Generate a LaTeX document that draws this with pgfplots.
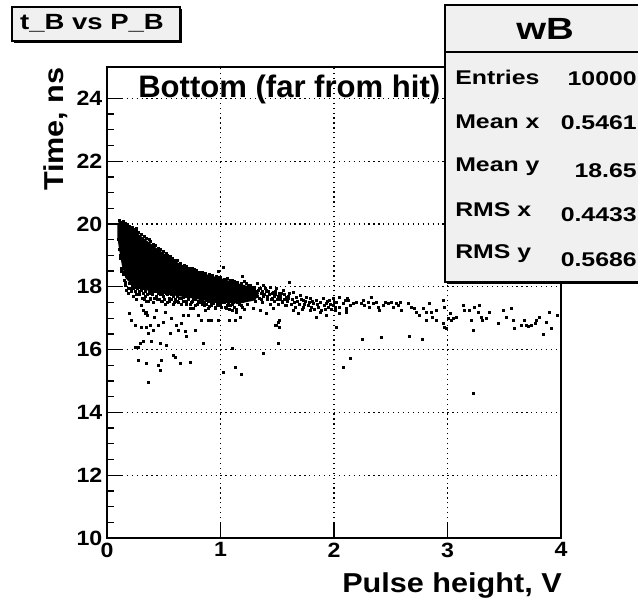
\documentclass[border=0pt]{standalone}
\usepackage{fontspec}
\setmainfont{Liberation Sans}
\newfontfamily\fA[FakeStretch=1.12]{Liberation Sans}
\newfontfamily\fB[FakeStretch=1.25]{Liberation Sans}
\usepackage{pgfplots}
\pgfplotsset{compat=1.18}
\definecolor{boxgray}{RGB}{240,240,240}
\begin{document}
\begin{tikzpicture}
\useasboundingbox (0,0) rectangle (478.5pt,450.75pt);
\begin{axis}[
  at={(80.25pt,47.25pt)}, anchor=south west, scale only axis,
  width=340.5pt, height=353.25pt,
  xmin=0, xmax=4, ymin=10, ymax=25,
  xtick={0,1,2,3,4}, ytick={10,12,14,16,18,20,22,24},
  minor y tick num=3,
  tick pos=left, tick align=inside,
  major tick length=11pt, minor tick length=5pt,
  every tick/.style={black, line width=1pt},
  axis line style={line width=1.2pt},
  grid=major,
  major grid style={black, line width=0.9pt, dash pattern=on 0.9pt off 2.8pt},
  ticklabel style={font=\fA\bfseries\fontsize{15.5}{15.5}\selectfont},
  /pgf/number format/assume math mode=true,
  clip=true,
]
% dense core of the distribution
\addplot[fill=black, draw=black, line width=1.6pt, line join=round] coordinates {
(0.10,19.95)(0.115,20.08)(0.15,20.0)(0.20,19.85)(0.29,19.6)(0.44,19.18)(0.59,18.8)(0.73,18.53)(0.88,18.36)(1.02,18.22)(1.17,18.06)(1.28,17.95)(1.33,17.8)(1.30,17.6)(1.17,17.5)(1.02,17.52)(0.88,17.58)(0.73,17.68)(0.55,17.78)(0.42,17.87)(0.29,17.97)(0.22,18.1)(0.17,18.3)(0.14,18.7)(0.12,19.1)(0.10,19.6)} --cycle;
% individual events
\addplot[only marks, mark=square*, mark size=0.75pt, black] coordinates {
(0.11,20.12)(0.14,20.1)(0.18,19.98)(0.22,19.9)(0.26,19.85)(0.26,19.76)(0.33,19.62)(0.37,19.5)(0.41,19.37)(0.47,19.2)(0.52,19.07)(0.56,18.96)(0.62,18.83)(0.68,18.7)(0.75,18.58)(0.79,18.52)(0.84,18.46)(0.90,18.41)(0.96,18.34)(1.00,18.3)(1.06,18.27)(1.10,18.2)(1.15,18.15)(1.19,18.34)(0.98,18.51)(1.02,18.62)(1.23,18.1)(1.26,18.05)
(0.125,20.05)(0.165,20.02)(0.195,19.93)(0.235,19.84)(0.275,19.73)(0.305,19.66)(0.345,19.55)(0.385,19.44)(0.425,19.33)(0.455,19.22)(0.495,19.12)(0.535,19.02)(0.575,18.92)(0.605,18.86)(0.645,18.76)(0.695,18.66)(0.725,18.6)(0.765,18.55)(0.815,18.47)(0.865,18.42)(0.925,18.38)(0.985,18.3)(1.035,18.25)(1.085,18.22)(1.125,18.18)(1.18,18.12)(1.21,18.18)(1.245,18.05)
(0.10,19.5)(0.11,19.2)(0.12,18.9)(0.13,18.5)(0.11,19.75)
(0.12,19.0)(0.13,18.6)(0.14,18.4)(0.15,18.2)(0.16,18.05)(0.17,17.9)(0.18,18.3)(0.19,17.8)(0.20,18.1)(0.21,17.95)(0.23,17.7)(0.24,18.0)(0.25,17.85)(0.26,17.6)(0.27,18.1)(0.28,17.75)(0.30,17.9)(0.31,17.65)(0.32,17.8)(0.34,17.7)(0.35,17.95)(0.36,17.55)(0.37,17.8)(0.38,17.65)(0.40,17.75)(0.41,17.5)(0.43,17.7)(0.44,17.85)(0.46,17.6)(0.47,17.75)(0.49,17.55)(0.50,17.7)(0.52,17.8)(0.53,17.5)(0.55,17.65)(0.57,17.75)(0.58,17.45)(0.60,17.6)(0.62,17.7)(0.63,17.5)(0.65,17.62)(0.67,17.55)(0.69,17.7)(0.70,17.45)(0.72,17.6)(0.74,17.52)(0.76,17.65)(0.78,17.4)(0.80,17.55)(0.82,17.6)(0.84,17.45)(0.86,17.5)(0.88,17.58)(0.90,17.38)(0.92,17.5)(0.95,17.55)(0.97,17.4)(0.99,17.48)(1.01,17.35)(1.03,17.5)(1.06,17.42)(1.08,17.3)(1.10,17.45)(1.12,17.35)(1.15,17.5)(1.18,17.4)(1.21,17.3)(1.24,17.45)
(0.155,18.45)(0.165,18.15)(0.175,18.35)(0.185,17.95)(0.195,18.25)(0.215,17.85)(0.225,18.05)(0.235,17.95)(0.245,18.2)(0.255,17.75)(0.265,17.95)(0.285,17.85)(0.295,18.0)(0.315,17.95)(0.325,17.6)(0.335,17.85)(0.345,17.55)(0.355,17.75)(0.375,17.9)(0.385,17.6)(0.395,17.85)(0.415,17.65)(0.425,17.85)(0.445,17.6)(0.455,17.8)(0.475,17.55)(0.485,17.8)(0.505,17.6)(0.515,17.45)(0.535,17.75)(0.545,17.55)(0.565,17.6)(0.585,17.7)(0.595,17.5)(0.615,17.55)(0.635,17.65)(0.655,17.45)(0.675,17.68)(0.695,17.55)(0.715,17.7)(0.735,17.45)(0.755,17.55)(0.775,17.6)(0.795,17.45)(0.815,17.5)(0.835,17.55)(0.855,17.4)(0.875,17.45)(0.895,17.55)(0.915,17.4)(0.935,17.48)(0.955,17.35)(0.975,17.52)(0.995,17.4)(1.015,17.5)(1.045,17.35)(1.065,17.48)(1.085,17.4)(1.115,17.5)(1.135,17.3)(1.165,17.45)(1.195,17.35)
(1.29,18.0)(1.32,18.1)(1.35,17.94)(1.376,18.05)(1.406,17.89)(1.435,18.0)(1.465,17.84)(1.49,17.94)(1.52,17.78)(1.55,17.89)(1.58,17.68)(1.61,17.78)(1.64,17.84)(1.67,17.68)(1.70,17.73)(1.73,17.57)(1.76,17.68)(1.79,17.63)(1.82,17.47)(1.846,17.57)(1.875,17.52)(1.905,17.63)(1.934,17.47)(1.96,17.57)(1.99,17.41)(2.02,17.52)(2.05,17.36)(2.08,17.47)(2.11,17.31)(2.125,17.57)(1.61,18.16)
(1.255,17.8)(1.265,17.9)(1.285,17.7)(1.295,17.95)(1.315,17.85)(1.325,17.7)(1.345,17.95)(1.355,17.6)(1.365,17.85)(1.385,17.75)(1.395,17.95)(1.415,17.7)(1.425,17.85)(1.445,17.6)(1.455,17.8)(1.475,17.7)(1.485,17.85)(1.505,17.7)(1.525,17.6)(1.535,17.8)(1.545,17.5)(1.565,17.75)(1.575,17.6)(1.595,17.65)
(1.05,17.31)(1.10,17.25)(1.14,17.2)(1.08,16.94)(1.13,16.94)(1.17,17.04)(1.29,17.31)(1.35,17.25)(1.406,17.15)(1.465,17.31)(1.49,16.78)(1.51,16.88)(1.52,16.94)(1.58,17.41)(1.64,17.25)(1.685,17.15)(1.73,17.36)(1.79,17.25)(1.846,17.04)(1.875,17.2)(1.934,17.1)(2.007,17.25)(2.05,17.15)(2.11,17.2)
(1.22,17.9)(1.24,17.7)(1.25,18.0)(1.27,17.6)(1.28,17.85)(1.30,17.75)(1.31,17.55)(1.33,17.9)(1.34,17.65)(1.36,17.8)(1.37,17.5)(1.38,17.7)(1.40,17.85)(1.41,17.6)(1.43,17.75)(1.44,17.45)(1.46,17.65)(1.47,17.55)(1.48,17.75)(1.50,17.6)(1.51,17.45)(1.53,17.7)(1.54,17.55)(1.56,17.6)(1.57,17.4)(1.59,17.55)(1.60,17.7)(1.62,17.45)(1.63,17.6)(1.65,17.5)(1.66,17.35)(1.68,17.55)(1.69,17.45)(1.71,17.6)(1.72,17.3)(1.74,17.45)(1.75,17.55)(1.77,17.4)(1.78,17.5)(1.80,17.35)(1.81,17.55)(1.83,17.3)(1.85,17.45)(1.86,17.35)(1.88,17.5)(1.89,17.25)(1.91,17.4)(1.92,17.3)(1.94,17.55)(1.95,17.35)(1.97,17.45)(1.98,17.3)(2.00,17.5)
(1.99,17.62)(2.02,17.52)(2.007,17.36)(2.05,17.68)(2.095,17.57)(2.12,17.63)(2.14,17.41)(2.11,17.25)(2.17,17.47)(2.20,17.52)(2.24,17.47)(2.26,17.57)(2.27,17.41)(2.30,17.52)(2.315,17.36)(2.33,17.68)(2.345,17.47)(2.37,17.52)(2.39,17.36)(2.40,17.25)(2.43,17.41)(2.45,17.52)(2.48,17.47)(2.505,17.52)(2.52,17.36)(2.55,17.47)(2.565,17.41)(2.58,17.52)(2.59,17.25)(2.65,17.47)(2.68,17.36)(2.71,17.31)(2.725,17.20)(2.755,17.10)(2.785,17.31)(2.81,17.20)(2.81,16.93)(2.84,17.47)(2.86,17.20)(2.87,17.04)(2.90,16.93)(2.90,17.25)(2.96,16.83)(2.975,16.72)(2.99,16.67)(3.005,16.99)(3.03,16.93)(3.05,16.99)(3.08,17.04)(2.975,17.36)(2.96,17.57)(3.02,17.15)(3.14,17.41)(3.15,17.25)(3.195,17.25)(3.21,16.93)(3.225,16.62)(3.24,17.36)(3.27,17.20)(3.28,17.41)(3.30,17.04)(3.31,16.93)(3.34,16.99)(3.37,17.20)(3.445,16.83)(3.49,17.25)(3.52,17.04)(3.56,17.31)(3.575,16.93)(3.59,16.67)(3.65,16.78)(3.68,16.93)(3.695,16.78)(3.71,16.74)(3.74,16.78)(3.77,16.83)(3.78,16.93)(3.81,17.04)(3.87,16.88)(3.90,17.20)(3.915,16.67)(3.97,17.10)
(0.20,17.15)(0.217,16.94)(0.246,16.78)(0.305,17.41)(0.32,17.25)(0.335,17.15)(0.345,17.2)(0.355,17.1)(0.305,16.72)(0.35,16.72)(0.364,16.51)(0.378,16.78)(0.393,16.25)(0.408,16.62)(0.42,17.04)(0.437,17.25)(0.452,16.78)(0.466,16.19)(0.496,16.88)(0.51,17.2)(0.525,16.14)(0.554,16.51)(0.569,16.99)(0.584,15.82)(0.613,16.78)(0.628,16.62)(0.657,16.83)(0.672,17.1)(0.687,16.57)(0.70,16.41)(0.716,17.1)(0.73,17.31)(0.76,17.31)(0.775,16.62)(0.804,17.1)(0.833,16.94)(0.848,16.19)(0.862,17.25)(0.892,17.31)(0.892,16.94)(0.92,16.94)(0.95,17.31)(0.98,16.94)(0.276,15.66)(0.349,15.56)(0.364,14.97)(0.452,15.5)(0.466,15.35)(0.481,15.66)(0.599,15.77)(0.643,15.56)(0.73,15.61)(0.246,16.09)(0.276,16.09)(0.29,16.19)(0.32,16.25)
(1.02,15.29)(1.10,16.05)(1.13,15.45)(1.18,15.22)(1.38,15.88)(1.48,16.78)(1.52,16.72)(1.51,16.2)(2.02,16.72)(2.08,15.45)(2.14,15.72)(2.25,16.32)(2.42,16.38)(2.66,16.43)(2.78,16.32)(3.23,14.6)(3.84,16.5)
};
\node[anchor=base west, font=\bfseries\fontsize{23.3}{23.3}\selectfont, inner sep=0pt] at (axis cs:0.273,24.03) {Bottom (far from hit)};
\end{axis}
% axis titles
\node[anchor=base east, inner sep=0pt, font=\fA\bfseries\fontsize{20.5}{20.5}\selectfont] at (421.5pt,6.75pt) {Pulse height, V};
\node[anchor=base east, rotate=90, inner sep=0pt, font=\fA\bfseries\fontsize{20.5}{20.5}\selectfont] at (47.25pt,400.5pt) {Time, ns};
% histogram title box
\fill[black] (10.5pt,418.5pt) rectangle (136.5pt,444pt);
\filldraw[fill=boxgray, draw=black, line width=0.9pt] (9pt,420pt) rectangle (135pt,445.5pt);
\node[anchor=base, inner sep=0pt, font=\fB\bfseries\fontsize{16.5}{16.5}\selectfont] at (69pt,428.25pt) {t\_B vs P\_B};
% statistics box
\fill[black] (335.25pt,237.75pt) rectangle (527pt,445.5pt);
\filldraw[fill=boxgray, draw=black, line width=1pt] (333.75pt,239.25pt) rectangle (525pt,447pt);
\draw[black, line width=1pt] (333.75pt,411.75pt) -- (525pt,411.75pt);
\node[anchor=base, inner sep=0pt, font=\fB\bfseries\fontsize{23}{23}\selectfont] at (408.75pt,420.75pt) {wB};
\begin{scope}[every node/.style={inner sep=0pt, font=\fB\bfseries\fontsize{14.9}{14.9}\selectfont}]
\node[anchor=base west] at (341.25pt,387pt) {Entries};
\node[anchor=base west] at (341.25pt,354.75pt) {Mean x};
\node[anchor=base west] at (341.25pt,322.5pt) {Mean y};
\node[anchor=base west] at (341.25pt,288.75pt) {RMS x};
\node[anchor=base west] at (341.25pt,257.25pt) {RMS y};
\node[anchor=base east] at (477.75pt,386.25pt) {10000};
\node[anchor=base east] at (477.75pt,353.25pt) {0.5461};
\node[anchor=base east] at (477.75pt,318pt) {18.65};
\node[anchor=base east] at (477.75pt,285pt) {0.4433};
\node[anchor=base east] at (477.75pt,251.25pt) {0.5686};
\end{scope}
\end{tikzpicture}
\end{document}
